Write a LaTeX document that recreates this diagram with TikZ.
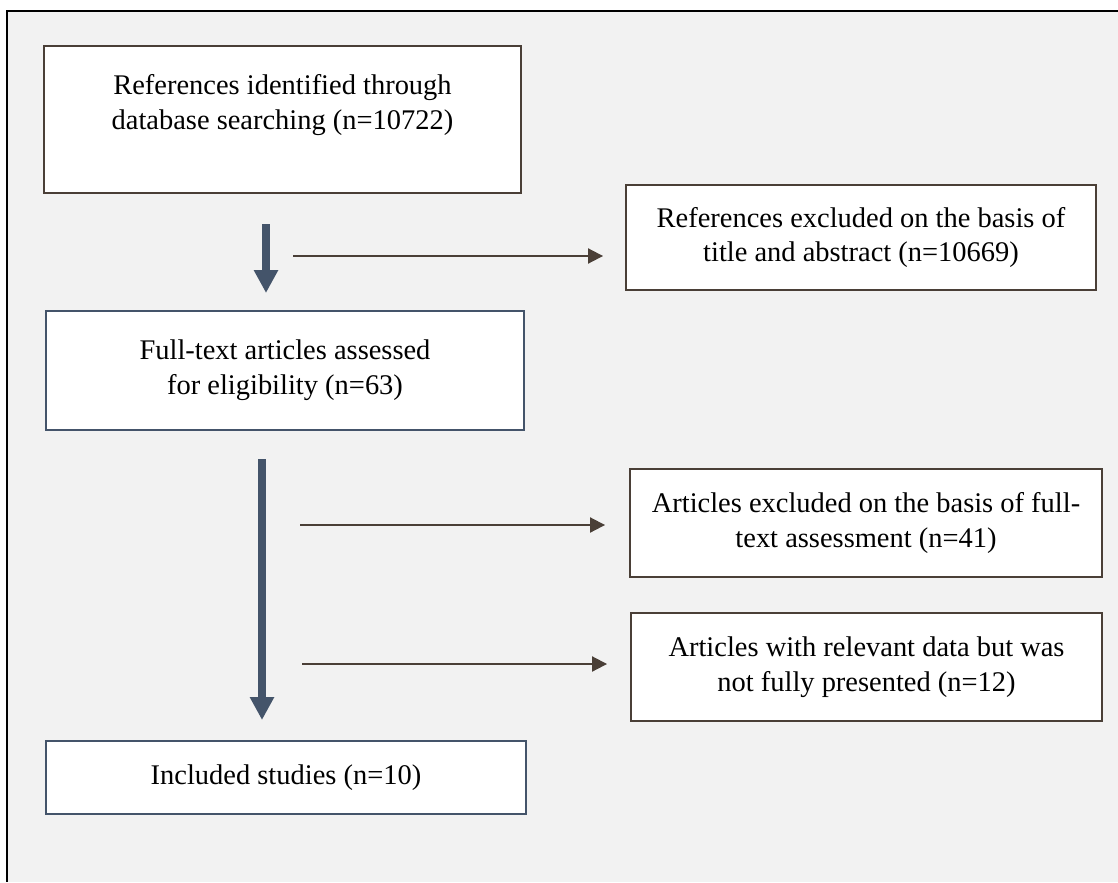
\documentclass[tikz,border=0pt]{standalone}
\usepackage{fontspec}
\setmainfont{Liberation Serif}
\usepackage{tikz}
\usetikzlibrary{arrows.meta,positioning,calc}
\definecolor{slate}{RGB}{68,84,106}
\definecolor{umber}{RGB}{74,63,55}
\definecolor{paper}{RGB}{242,242,242}
\tikzset{
  box/.style={draw=umber,line width=1.1pt,fill=white,rectangle,inner sep=0pt,outer sep=0pt,
    align=center,font=\fontsize{16.2pt}{19.9pt}\selectfont},
  bluebox/.style={box,draw=slate},
  bigarrow/.style={draw=slate,line width=4.5pt,-{Triangle[width=0.46cm,length=0.46cm]}},
  thinarrow/.style={draw=umber,line width=1.1pt,-{Triangle[width=0.3cm,length=0.3cm]}}
}

\begin{document}
\begin{tikzpicture}[x=0.02cm,y=-0.02cm]
    \useasboundingbox (0,0) rectangle (1118,882);
    \fill[paper] (7,11) rectangle (1118,882);
    \draw[black,line width=1.1pt] (1118,11) -- (7,11) -- (7,882);

    % left column
    \node[box,minimum width=9.54cm,minimum height=2.94cm] (found) at (282.5,119.5)
      {References identified through\\database searching (n=10722)\\\mbox{}};
    \node[bluebox,minimum width=9.56cm,minimum height=2.38cm] (full) at (285,370.5)
      {Full-text articles assessed\\for eligibility (n=63)};
    \node[bluebox,minimum width=9.6cm,minimum height=1.46cm] (incl) at (286,777.5)
      {Included studies (n=10)};

    % right column
    \node[box,minimum width=9.4cm,minimum height=2.1cm] (excA) at (861,237.5)
      {References excluded on the basis of\\title and abstract (n=10669)};
    \node[box,minimum width=9.44cm,minimum height=2.16cm] (excB) at (866,523)
      {Articles excluded on the basis of full-\\text assessment (n=41)};
    \node[box,minimum width=9.42cm,minimum height=2.16cm] (excC) at (866.5,667)
      {Articles with relevant data but was\\not fully presented (n=12)};

    % main flow
    \coordinate (s1) at (266,224);
    \coordinate (e1) at (266,293);
    \coordinate (s2) at (262,459);
    \coordinate (e2) at (262,720);
    \draw[bigarrow] (s1) -- (e1);
    \draw[bigarrow] (s2) -- (e2);

    % exclusions
    \coordinate (a1) at (293,256);
    \coordinate (a2) at (300,525);
    \coordinate (a3) at (302,664);
    \draw[thinarrow,shorten >=0.46cm] (a1) -- (a1 -| excA.west);
    \draw[thinarrow,shorten >=0.5cm] (a2) -- (a2 -| excB.west);
    \draw[thinarrow,shorten >=0.48cm] (a3) -- (a3 -| excC.west);
  \end{tikzpicture}
\end{document}
